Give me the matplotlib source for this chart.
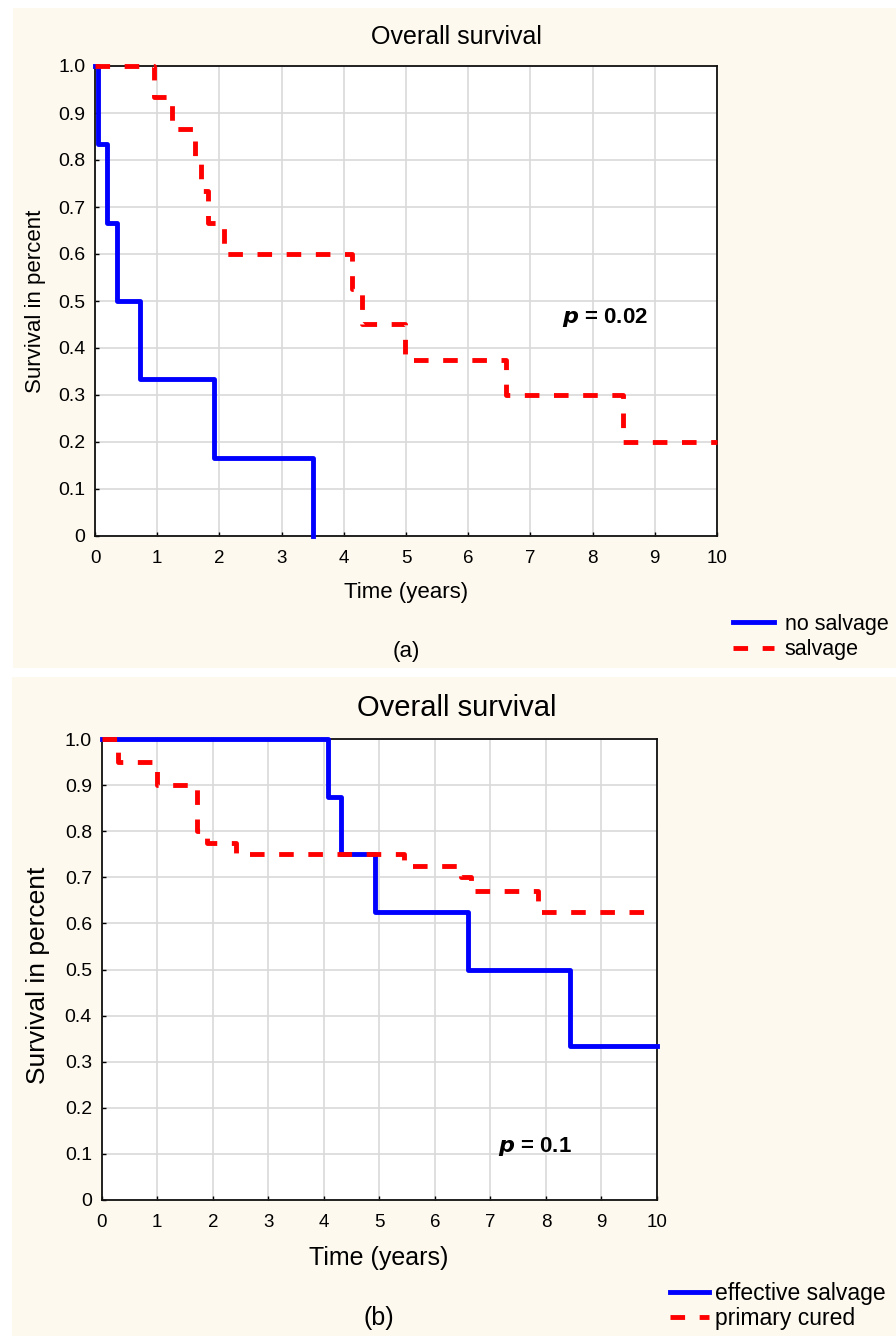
import matplotlib
matplotlib.use("Agg")
import matplotlib.pyplot as plt
from matplotlib.patches import Rectangle

plt.rcParams["font.family"] = ["Liberation Sans", "DejaVu Sans"]

# panel (a) - Kaplan-Meier steps (time in years, survival)
a_nosalv_t = [0.0, 0.05, 0.19, 0.35, 0.73, 1.92, 3.5]
a_nosalv_s = [1.0, 0.833, 0.667, 0.5, 0.333, 0.167, 0.0]
a_salv_t = [0.0, 0.95, 1.23, 1.6, 1.71, 1.82, 2.08, 4.13, 4.3, 4.98, 6.6, 8.49, 10.0]
a_salv_s = [1.0, 0.933, 0.867, 0.8, 0.733, 0.667, 0.6, 0.525, 0.45, 0.375, 0.3, 0.2, 0.2]

# panel (b)
b_eff_t = [0.0, 4.07, 4.31, 4.93, 6.59, 8.43, 10.0]
b_eff_s = [1.0, 0.875, 0.75, 0.625, 0.5, 0.333, 0.333]
b_prim_t = [0.0, 0.3, 0.99, 1.72, 1.9, 2.42, 5.45, 6.47, 6.65, 7.85, 10.0]
b_prim_s = [1.0, 0.95, 0.9, 0.8, 0.775, 0.75, 0.725, 0.7, 0.67, 0.625, 0.625]

x_ticks = list(range(0, 11))
y_ticks = [0, 0.1, 0.2, 0.3, 0.4, 0.5, 0.6, 0.7, 0.8, 0.9, 1.0]
y_ticklabels = ["0", "0.1", "0.2", "0.3", "0.4", "0.5", "0.6", "0.7", "0.8", "0.9", "1.0"]

W, H = 896, 1336
BG = "#fef9ee"
BLUE = "#0000ff"
RED = "#ff0000"

fig = plt.figure(figsize=(W / 100, H / 100), dpi=100)
fig.patch.set_facecolor("white")


def px_rect(x0, y0, x1, y1):
    # pixel box (top-left origin) -> figure fraction [l, b, w, h]
    return [x0 / W, 1 - y1 / H, (x1 - x0) / W, (y1 - y0) / H]


def ftext(x, y, s, **kw):
    return fig.text(x / W, 1 - y / H, s, ha="center", va="center", **kw)


def panel(box):
    l, b, w, h = px_rect(*box)
    fig.patches.append(Rectangle((l, b), w, h, transform=fig.transFigure,
                                 facecolor=BG, edgecolor="none", zorder=-10))


def setup_axes(ax):
    ax.set_xlim(0, 10)
    ax.set_ylim(0, 1)
    ax.set_xticks(x_ticks)
    ax.set_yticks(y_ticks)
    ax.set_yticklabels(y_ticklabels)
    ax.grid(True, color="#d9d9d9", linewidth=1.2)
    ax.set_axisbelow(True)
    ax.tick_params(direction="in", length=3, width=1, colors="black")
    ax.tick_params(axis="x", pad=10, labelsize=13.5)
    ax.tick_params(axis="y", pad=7, labelsize=14)
    for sp in ax.spines.values():
        sp.set_linewidth(1.3)
        sp.set_color("#111111")


panel((13, 8, 896, 668))
panel((12, 677, 896, 1336))

# ---- panel (a)
ax1 = fig.add_axes(px_rect(95, 66, 717, 536))
setup_axes(ax1)
ax1.step(a_nosalv_t, a_nosalv_s, where="post", color=BLUE, lw=3.5, clip_on=False, zorder=3)
ax1.step(a_salv_t, a_salv_s, where="post", color=RED, lw=3.5, ls=(0, (3, 3)),
         clip_on=False, zorder=3)
ftext(406, 593, "Time (years)", fontsize=16)
ftext(35, 301, "Survival in percent", fontsize=16, rotation=90)
ax1.text(0.82, 0.464, r"$\boldsymbol{p}$ = 0.02", transform=ax1.transAxes,
         fontsize=16, fontweight="bold", ha="center", va="center")
ftext(456, 37, "Overall survival", fontsize=18)
ftext(406, 652, "(a)", fontsize=16)
fig.legend(handles=ax1.get_lines(), labels=["no salvage", "salvage"],
           loc="center left", bbox_to_anchor=(733 / W, 1 - 637 / H),
           frameon=False, fontsize=15.5, handlelength=1.9, handletextpad=0.5,
           labelspacing=0.2, borderaxespad=0, borderpad=0)

# ---- panel (b)
ax2 = fig.add_axes(px_rect(101.7, 739, 657, 1200))
setup_axes(ax2)
ax2.step(b_eff_t, b_eff_s, where="post", color=BLUE, lw=3.5, clip_on=False, zorder=3)
ax2.step(b_prim_t, b_prim_s, where="post", color=RED, lw=3.5, ls=(0, (3, 3)),
         clip_on=False, zorder=3)
ftext(379, 1258, "Time (years)", fontsize=18)
ftext(38, 975, "Survival in percent", fontsize=19, rotation=90)
ax2.text(0.78, 0.115, r"$\boldsymbol{p}$ = 0.1", transform=ax2.transAxes,
         fontsize=16, fontweight="bold", ha="center", va="center")
ftext(457, 708, "Overall survival", fontsize=21)
ftext(379, 1318, "(b)", fontsize=18)
fig.legend(handles=ax2.get_lines(), labels=["effective salvage", "primary cured"],
           loc="center left", bbox_to_anchor=(670 / W, 1 - 1306 / H),
           frameon=False, fontsize=16.5, handlelength=1.7, handletextpad=0.25,
           labelspacing=0.08, borderaxespad=0, borderpad=0)

fig.savefig("out.png", dpi=100, facecolor=fig.get_facecolor())
